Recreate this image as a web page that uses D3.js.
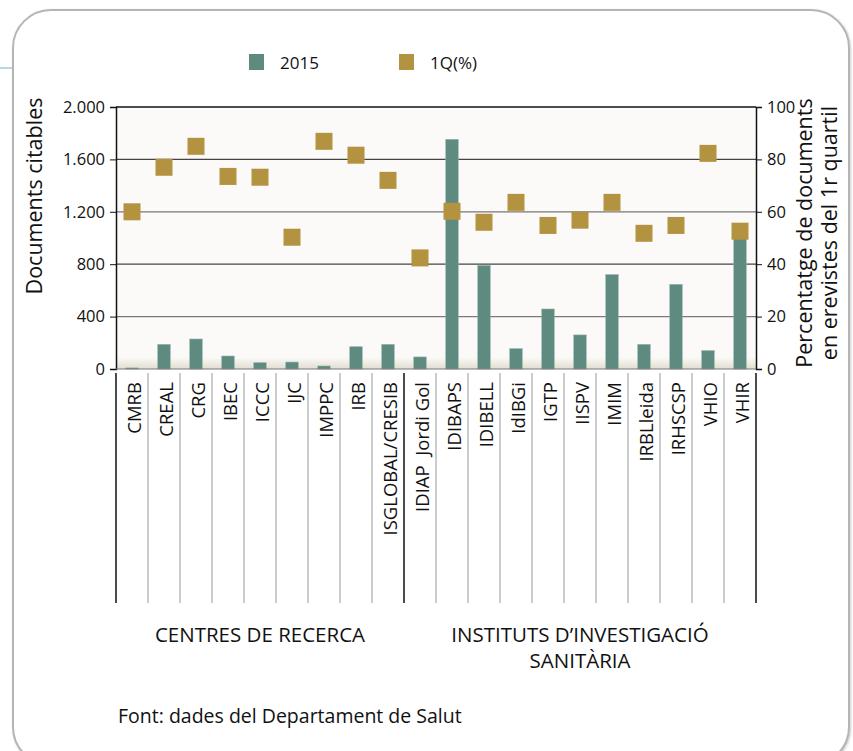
<!DOCTYPE html>
<html>
<head>
<meta charset="utf-8">
<script src="https://cdn.jsdelivr.net/npm/d3@7/dist/d3.min.js"></script>
<style>
  body { margin: 0; background: #fff; }
  svg { font-family: "Open Sans", "Noto Sans", sans-serif; }
</style>
</head>
<body>
<div id="chart-area"></div>
<script>
const categories = ["CMRB", "CREAL", "CRG", "IBEC", "ICCC", "IJC", "IMPPC", "IRB", "ISGLOBAL/CRESIB",
  "IDIAP  Jordi Gol", "IDIBAPS", "IDIBELL", "IdIBGi", "IGTP", "IISPV", "IMIM", "IRBLleida", "IRHSCSP", "VHIO", "VHIR"];
const docs2015 = [8, 188, 229, 99, 48, 53, 23, 170, 188, 92, 1753, 790, 155, 458, 260, 720, 188, 646, 140, 1020];
const q1Pct = [60, 77, 85, 73.5, 73.2, 50.3, 86.9, 81.6, 72, 42.4, 60.2, 56, 63.6, 54.8, 56.8, 63.6, 51.8, 54.8, 82.3, 52.6];
const leftTicks = [0, 400, 800, 1200, 1600, 2000];
const rightTicks = [0, 20, 40, 60, 80, 100];
const groupNames = [["CENTRES DE RECERCA"], ["INSTITUTS D’INVESTIGACIÓ", "SANITÀRIA"]];
const groupSizes = [9, 11];
const seriesNames = ["2015", "1Q(%)"];

const W = 853, H = 751;
const plot = { left: 116, right: 756, top: 107, bottom: 369 };
const barColor = "#5f8a80", sqColor = "#b39340";

const svg = d3.select("#chart-area").append("svg")
  .attr("width", W).attr("height", H);

const defs = svg.append("defs");
const grad = defs.append("linearGradient").attr("id", "bg").attr("x1", 0).attr("y1", 0).attr("x2", 0).attr("y2", 1);
grad.append("stop").attr("offset", "0").attr("stop-color", "#fbfaf8");
grad.append("stop").attr("offset", "0.955").attr("stop-color", "#fbfaf8");
grad.append("stop").attr("offset", "1").attr("stop-color", "#e3ddd0");
const fshadow = defs.append("filter").attr("id", "fs").attr("x", -0.05).attr("y", -0.05).attr("width", 1.1).attr("height", 1.1);
fshadow.append("feDropShadow").attr("dx", 1).attr("dy", 1).attr("stdDeviation", 1.2).attr("flood-color", "#999").attr("flood-opacity", 0.5);

// outer frame
svg.append("line").attr("x1", 0).attr("x2", 13).attr("y1", 68).attr("y2", 68)
  .attr("stroke", "#9cc8e6").attr("stroke-width", 1.5);
svg.append("rect").attr("x", 13).attr("y", 10).attr("width", 836).attr("height", 755)
  .attr("rx", 38).attr("ry", 38).attr("fill", "#fff")
  .attr("stroke", "#b5b5b5").attr("stroke-width", 2).attr("filter", "url(#fs)");

// scales
const x = d3.scaleBand().domain(categories).range([plot.left, plot.right]).padding(0);
const yL = d3.scaleLinear().domain([0, 2000]).range([plot.bottom, plot.top]);
const yR = d3.scaleLinear().domain([0, 100]).range([plot.bottom, plot.top]);
const fmt = d3.formatLocale({ decimal: ",", thousands: ".", grouping: [3], currency: ["", "€"] }).format(",");

// plot background
svg.append("rect").attr("x", plot.left).attr("y", plot.top)
  .attr("width", plot.right - plot.left).attr("height", plot.bottom - plot.top)
  .attr("fill", "url(#bg)");

// gridlines
svg.append("g").selectAll("line").data(leftTicks.slice(1, -1)).join("line")
  .attr("x1", plot.left).attr("x2", plot.right)
  .attr("y1", d => yL(d)).attr("y2", d => yL(d))
  .attr("stroke", (d, i) => i % 2 ? "#444" : "#777").attr("stroke-width", 1.3);
svg.append("line").attr("x1", plot.left).attr("x2", plot.right)
  .attr("y1", plot.top).attr("y2", plot.top).attr("stroke", "#111").attr("stroke-width", 1.3);

// bars
const bw = x.bandwidth() * 0.39;
svg.append("g").selectAll("rect").data(docs2015).join("rect")
  .attr("x", (d, i) => x(categories[i]) + (x.bandwidth() - bw) / 2)
  .attr("y", d => yL(d))
  .attr("width", bw)
  .attr("height", d => plot.bottom - yL(d))
  .attr("fill", barColor)
  .attr("stroke", "#8fb0a8").attr("stroke-width", 0.6);

// squares
const sq = 17;
svg.append("g").selectAll("rect").data(q1Pct).join("rect")
  .attr("x", (d, i) => x(categories[i]) + x.bandwidth() / 2 - sq / 2)
  .attr("y", d => yR(d) - sq / 2)
  .attr("width", sq).attr("height", sq)
  .attr("fill", sqColor);

// axes
const leftAxis = svg.append("g").attr("transform", `translate(${plot.left},0)`)
  .call(d3.axisLeft(yL).tickValues(leftTicks).tickFormat(fmt).tickSize(6).tickPadding(5));
const rightAxis = svg.append("g").attr("transform", `translate(${plot.right},0)`)
  .call(d3.axisRight(yR).tickValues(rightTicks).tickSize(6).tickPadding(5));
[leftAxis, rightAxis].forEach(a => {
  a.select(".domain").attr("stroke", "#111").attr("stroke-width", 1.5);
  a.selectAll(".tick line").attr("stroke", "#111");
  a.selectAll("text").attr("font-size", 16.5).attr("fill", "#111")
    .attr("font-family", "\"Open Sans\", \"Noto Sans\", sans-serif");
});

// category separators below the plot
const bounds = d3.range(categories.length + 1);
const groupEdges = [0, groupSizes[0], categories.length];
svg.append("g").selectAll("line").data(bounds).join("line")
  .attr("x1", i => plot.left + i * x.step()).attr("x2", i => plot.left + i * x.step())
  .attr("y1", plot.bottom + 4).attr("y2", 603)
  .attr("stroke", i => groupEdges.includes(i) ? "#111" : "#999")
  .attr("stroke-width", i => groupEdges.includes(i) ? 1.5 : 1);
svg.append("line").attr("x1", plot.left).attr("x2", plot.right)
  .attr("y1", plot.bottom).attr("y2", plot.bottom).attr("stroke", "#777").attr("stroke-width", 1);

// category labels
svg.append("g").selectAll("text").data(categories).join("text")
  .attr("transform", d => `translate(${x(d) + x.bandwidth() / 2 + 9},382) rotate(-90)`)
  .attr("text-anchor", "end")
  .attr("font-size", 18.5).attr("fill", "#111")
  .style("white-space", "pre")
  .text(d => d);

// group labels
let start = 0;
groupNames.forEach((lines, gi) => {
  const cx = plot.left + (start + groupSizes[gi] / 2) * x.step();
  lines.forEach((ln, li) => {
    svg.append("text").attr("x", cx).attr("y", 642 + li * 26)
      .attr("text-anchor", "middle").attr("font-size", 20.5).attr("fill", "#111").text(ln);
  });
  start += groupSizes[gi];
});

// axis titles
svg.append("text").attr("transform", "translate(42,196) rotate(-90)")
  .attr("text-anchor", "middle").attr("font-size", 21.5).attr("fill", "#111")
  .text("Documents citables");
const rt = svg.append("text").attr("transform", "translate(812,233) rotate(-90)")
  .attr("text-anchor", "middle").attr("font-size", 21.5).attr("fill", "#111");
rt.append("tspan").attr("x", 0).attr("dy", 0).text("Percentatge de documents");
rt.append("tspan").attr("x", 0).attr("dy", 25).text("en erevistes del 1r quartil");

// legend
const legend = svg.append("g");
const legX = [249, 399];
const legColors = [barColor, sqColor];
seriesNames.forEach((name, i) => {
  legend.append("rect").attr("x", legX[i]).attr("y", 54).attr("width", 15).attr("height", 16).attr("fill", legColors[i]);
  legend.append("text").attr("x", legX[i] + 31).attr("y", 69).attr("font-size", 17).attr("fill", "#111").text(name);
});

// source
svg.append("text").attr("x", 118).attr("y", 723).attr("font-size", 19.5).attr("fill", "#111")
  .text("Font: dades del Departament de Salut");
</script>
</body>
</html>
